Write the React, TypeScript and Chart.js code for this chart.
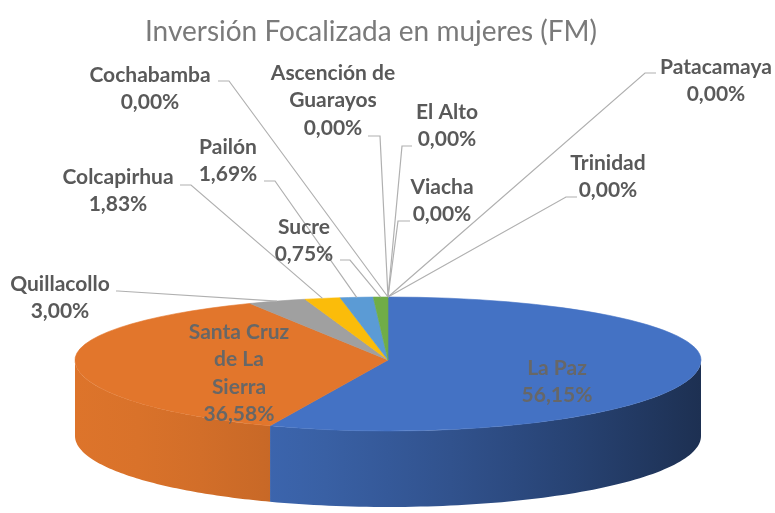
import React, { useEffect, useRef } from 'react';
import { Chart, PieController, ArcElement } from 'chart.js';

Chart.register(PieController, ArcElement);

const TITLE = 'Inversión Focalizada en mujeres (FM)';
const CATEGORIES = [
  'La Paz',
  'Santa Cruz\nde La\nSierra',
  'Quillacollo',
  'Colcapirhua',
  'Pailón',
  'Sucre',
  'Cochabamba',
  'Ascención de\nGuarayos',
  'El Alto',
  'Viacha',
  'Trinidad',
  'Patacamaya',
];
const VALUES = [56.15, 36.58, 3.0, 1.83, 1.69, 0.75, 0, 0, 0, 0, 0, 0];
const COLORS = [
  '#4472C4', '#E2762C', '#A0A0A0', '#FBBC0A', '#5B9BD5', '#70AD47',
  '#264478', '#9E480E', '#636363', '#997300', '#255E91', '#43682B',
];

// Label placement (layout only): text centre x, first line y, leader start x, elbow x, leader y
const LABEL_LAYOUT: any[] = [
  { x: 557, y: 368, inside: true },
  { x: 239, y: 332, inside: true },
  { x: 60, y: 284, lx: 116, ex: 118, ly: 291 },
  { x: 118, y: 177, lx: 180, ex: 191, ly: 185 },
  { x: 228, y: 147, lx: 264, ex: 275, ly: 181 },
  { x: 304, y: 227, lx: 340, ex: 350, ly: 260 },
  { x: 150, y: 75, lx: 218, ex: 229, ly: 81 },
  { x: 333, y: 73, lx: 368, ex: 380, ly: 136 },
  { x: 447, y: 112, lx: 412, ex: 402, ly: 146 },
  { x: 442, y: 187, lx: 410, ex: 398, ly: 221 },
  { x: 608, y: 163, lx: 577, ex: 566, ly: 197 },
  { x: 716, y: 67, lx: 656, ex: 645, ly: 73 },
];

const RADIUS = 313;
const RY_BACK = 63;
const RY_FRONT = 71;
const DEPTH = 76;
const LINE_H = 27.5;

function shade(hex: string, f: number) {
  const n = parseInt(hex.slice(1), 16);
  const r = Math.round(((n >> 16) & 255) * f);
  const g = Math.round(((n >> 8) & 255) * f);
  const b = Math.round((n & 255) * f);
  return `rgb(${r},${g},${b})`;
}

function fmt(v: number) {
  return v.toFixed(2).replace('.', ',') + '%';
}

const pie3d = {
  id: 'pie3d',
  beforeDatasetDraw() {
    return false;
  },
  afterDatasetsDraw(chart: any) {
    const ctx = chart.ctx as CanvasRenderingContext2D;
    const arcs = chart.getDatasetMeta(0).data as any[];
    const cx = arcs[0].x;
    const cy = arcs[0].y;
    const r = arcs[0].outerRadius;
    const sb = RY_BACK / r;
    const sf = RY_FRONT / r;

    // side walls (front half only)
    arcs.forEach((arc, i) => {
      const a1 = Math.max(arc.startAngle, 0);
      const a2 = Math.min(arc.endAngle, Math.PI);
      if (a2 <= a1) return;
      const N = 80;
      ctx.save();
      ctx.beginPath();
      for (let k = 0; k <= N; k++) {
        const a = a1 + ((a2 - a1) * k) / N;
        const x = cx + r * Math.cos(a);
        const y = cy + r * sf * Math.sin(a);
        if (k === 0) ctx.moveTo(x, y);
        else ctx.lineTo(x, y);
      }
      for (let k = N; k >= 0; k--) {
        const a = a1 + ((a2 - a1) * k) / N;
        ctx.lineTo(cx + r * Math.cos(a), cy + r * sf * Math.sin(a) + DEPTH);
      }
      ctx.closePath();
      const g = ctx.createLinearGradient(cx - r, 0, cx + r, 0);
      for (let s = 0; s <= 10; s++) {
        const t = s / 10;
        g.addColorStop(t, shade(COLORS[i], 0.98 - 0.56 * Math.pow(t, 1.5)));
      }
      ctx.fillStyle = g;
      ctx.fill();
      ctx.restore();
    });

    // top face: back half and front half with different vertical squash
    const drawTop = (back: boolean) => {
      ctx.save();
      ctx.beginPath();
      if (back) ctx.rect(0, 0, chart.width, cy);
      else ctx.rect(0, cy, chart.width, chart.height - cy);
      ctx.clip();
      ctx.translate(0, cy);
      ctx.scale(1, back ? sb : sf);
      ctx.translate(0, -cy);
      arcs.forEach((a) => a.draw(ctx));
      ctx.restore();
    };
    drawTop(true);
    drawTop(false);

    // leader lines
    ctx.save();
    ctx.strokeStyle = '#B0B0B0';
    ctx.lineWidth = 1.2;
    arcs.forEach((arc, i) => {
      const L = LABEL_LAYOUT[i];
      if (L.inside) return;
      const mid = (arc.startAngle + arc.endAngle) / 2;
      const s = Math.sin(mid);
      const px = cx + r * Math.cos(mid);
      const py = cy + r * s * (s < 0 ? sb : sf);
      ctx.beginPath();
      ctx.moveTo(L.lx, L.ly);
      ctx.lineTo(L.ex, L.ly);
      ctx.lineTo(px, py);
      ctx.stroke();
    });
    ctx.restore();

    // labels
    ctx.save();
    ctx.textAlign = 'center';
    ctx.textBaseline = 'middle';
    ctx.font = 'bold 21px Lato';
    arcs.forEach((arc, i) => {
      const L = LABEL_LAYOUT[i];
      const lines = CATEGORIES[i].split('\n').concat([fmt(VALUES[i])]);
      ctx.fillStyle = L.inside ? '#676767' : '#595959';
      lines.forEach((t, k) => ctx.fillText(t, L.x, L.y + k * LINE_H));
    });
    ctx.restore();

    // title
    ctx.save();
    ctx.textAlign = 'center';
    ctx.textBaseline = 'middle';
    ctx.font = '28px Lato';
    ctx.fillStyle = '#7A7A7A';
    ctx.fillText(TITLE, 371, 32);
    ctx.restore();
  },
};

export default function App() {
  const ref = useRef<HTMLCanvasElement>(null);
  useEffect(() => {
    document.body.style.margin = '0';
    const chart = new Chart(ref.current!, {
      type: 'pie',
      data: {
        labels: CATEGORIES,
        datasets: [
          {
            data: VALUES,
            backgroundColor: COLORS,
            borderColor: COLORS,
            borderWidth: (c: any) => (c.raw > 0 ? 1 : 0),
            radius: RADIUS,
            clip: false,
          } as any,
        ],
      },
      options: {
        responsive: false,
        animation: false,
        events: [],
        layout: { padding: { left: 1, right: 0, top: 207, bottom: 0 } },
      } as any,
      plugins: [pie3d as any],
    });
    return () => chart.destroy();
  }, []);
  return (
    <div style={{ width: 775, height: 513, background: '#fff' }}>
      <canvas ref={ref} width={775} height={513} style={{ display: 'block' }} />
    </div>
  );
}
